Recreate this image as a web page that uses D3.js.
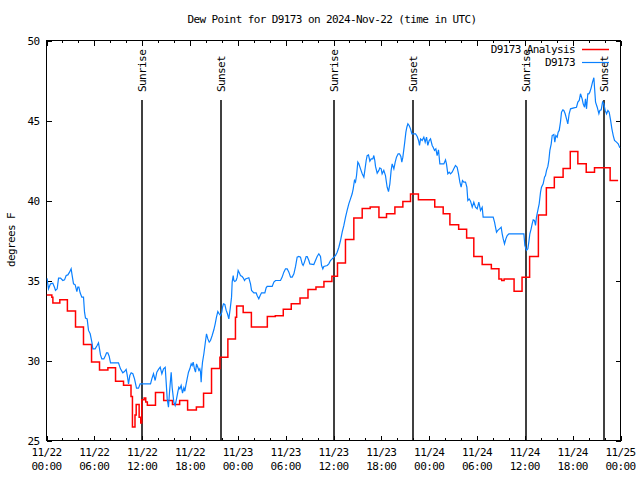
<!DOCTYPE html>
<html><head><meta charset="utf-8">
<script src="https://cdn.jsdelivr.net/npm/d3@7"></script>
<style>
body{margin:0;background:#fff}
text{font-family:"DejaVu Sans Mono","Liberation Mono",monospace;font-size:11px;letter-spacing:-0.6px;fill:#000}
</style></head>
<body><svg id="c" width="640" height="480"></svg>
<script>
// ---- data (hours since 2024-11-22 00:00 UTC) ----
const title = "Dew Point for D9173 on 2024-Nov-22 (time in UTC)";
const yLabel = "degrees F";
const seriesNames = ["D9173 Analysis", "D9173"];
const yTicks = [25, 30, 35, 40, 45, 50];
const xTickHours = [0, 6, 12, 18, 24, 30, 36, 42, 48, 54, 60, 66, 72];
const xTickDates = ["11/22","11/22","11/22","11/22","11/23","11/23","11/23","11/23","11/24","11/24","11/24","11/24","11/25"];
const xTickTimes = ["00:00","06:00","12:00","18:00","00:00","06:00","12:00","18:00","00:00","06:00","12:00","18:00","00:00"];
const sunNames = ["Sunrise","Sunset","Sunrise","Sunset","Sunrise","Sunset"];
const sunHours = [11.98, 21.89, 36.04, 45.97, 60.15, 69.93];

// analysis (stepped): step start hour and value
const anaHours = [0,0.67,0.8,1.67,2.62,3.64,4.64,5.65,6.65,7.7,8.66,9.66,10.6,10.78,11.1,11.25,11.62,11.82,11.95,12.25,12.45,12.65,13.67,14.7,15.8,16.7,17.7,18.8,19.7,20.7,21.75,22.75,23.7,23.85,24.67,25.7,27.7,28.7,29.7,30.7,31.8,32.8,33.8,34.8,35.8,36.5,37.5,38.55,39.6,40.6,41.7,42.65,43.7,44.7,45.66,46.65,48.7,49.76,50.6,51.7,52.7,53.6,54.65,55.8,56.75,57.1,57.4,58.65,59.65,60.6,61.7,62.7,63.7,64.8,65.7,66.65,67.7,68.74,70.7,71.7];
const anaValues = [34.1,33.95,33.6,33.8,33.1,32.1,31.0,29.9,29.4,29.55,28.7,28.45,27.75,25.85,26.6,27.25,26.45,26.1,27.55,27.65,27.4,27.2,28.0,27.5,27.25,27.5,26.9,27.1,27.95,29.5,30.2,31.35,32.7,33.4,33.0,32.1,32.75,32.8,33.2,33.54,33.9,34.44,34.6,34.94,35.27,36.1,37.56,38.9,39.5,39.6,38.94,39.17,39.6,39.94,40.4,40.04,39.6,39.17,38.48,38.2,37.65,36.5,36.0,35.73,35.1,35.0,35.1,34.33,35.2,36.5,39.1,40.8,41.46,42.0,43.06,42.3,41.77,42.04,41.25,41.25];

// observations
const obsHours = [0.02,0.08,0.25,0.5,0.79,1.0,1.13,1.34,1.51,1.76,2.05,2.26,2.47,2.68,2.89,3.09,3.22,3.39,3.6,3.81,3.93,4.06,4.22,4.43,4.64,4.77,4.89,5.1,5.27,5.48,5.69,5.81,6.1,6.35,6.52,6.65,6.77,6.94,7.19,7.4,7.53,7.69,7.86,8.03,9.03,9.28,9.57,9.78,9.99,10.12,10.29,10.45,10.62,10.83,11.04,11.29,11.54,11.75,13.05,13.21,13.42,13.63,13.84,14.05,14.26,14.47,14.68,14.89,15.01,15.14,15.3,15.43,15.55,15.64,15.76,15.97,16.14,16.31,16.47,16.6,16.73,16.89,17.06,17.23,17.35,17.48,17.64,17.81,17.98,18.15,18.27,18.4,18.56,18.69,18.82,18.98,19.11,19.23,19.32,19.4,19.49,19.57,19.74,19.91,20.07,20.24,20.41,20.57,20.78,20.99,21.16,21.32,21.49,21.66,21.83,21.99,22.08,22.2,22.37,22.54,22.7,22.87,23.04,23.21,23.29,23.42,23.5,23.62,23.79,23.92,24.04,24.21,24.33,24.54,24.67,24.84,24.96,25.38,25.59,25.72,26.01,26.3,26.42,26.63,26.8,26.97,27.39,27.55,27.68,28.31,28.52,28.73,29.35,29.56,29.77,29.98,30.19,30.4,30.61,30.82,31.03,31.24,31.44,31.65,31.86,32.07,32.19,32.36,32.57,32.7,32.91,33.03,33.53,33.74,33.95,34.16,34.37,34.5,34.66,34.79,35.21,35.41,35.62,35.83,36.04,36.25,36.46,36.67,36.88,37.09,37.3,37.51,37.71,37.92,38.13,38.34,38.47,38.63,38.76,38.89,39.05,39.18,39.39,39.6,39.81,39.93,40.1,40.22,40.39,40.56,40.73,40.93,41.06,41.18,41.27,41.48,41.69,41.81,41.98,42.1,42.31,42.52,42.73,42.9,43.07,43.23,43.36,43.57,43.74,43.9,44.11,44.28,44.45,44.57,44.7,44.91,45.08,45.2,45.33,45.49,45.66,45.83,46.29,46.5,46.67,46.79,46.92,47.12,47.33,47.5,47.67,47.83,48.0,48.17,48.38,48.5,48.67,48.84,49.0,49.17,49.34,49.84,50.05,50.17,50.34,50.51,50.68,50.88,51.09,51.3,51.51,51.68,51.85,52.01,52.18,52.35,52.56,52.73,52.85,53.02,53.19,53.4,53.6,53.81,54.02,54.23,54.44,54.65,54.77,56.03,56.2,56.32,56.45,56.61,56.82,57.03,57.16,57.29,57.45,57.62,57.79,58.0,59.88,60.0,60.21,60.38,60.5,60.63,60.79,60.92,61.05,61.21,61.34,61.46,61.63,61.8,61.97,62.09,62.3,62.47,62.59,62.72,62.89,63.01,63.14,63.31,63.43,63.64,63.76,63.89,64.06,64.18,64.31,64.47,64.6,64.77,64.89,65.06,65.23,65.39,65.56,65.73,66.15,66.48,66.65,66.82,66.98,67.19,67.32,67.49,67.61,67.74,67.9,68.03,68.15,68.32,68.49,68.66,68.74,68.87,69.08,69.29,69.41,69.58,69.75,69.91,70.08,70.25,70.42,70.58,70.75,70.92,71.09,71.25,71.5,71.71,71.92];
const obsValues = [35.1,35.1,34.48,34.79,34.83,34.58,34.38,34.48,35.15,35.15,35.0,35.04,35.31,35.35,35.52,35.73,35.31,34.79,34.73,34.31,34.58,34.58,34.23,33.96,33.96,33.02,32.65,32.6,31.88,31.67,31.15,30.73,30.73,30.94,31.1,30.73,30.35,30.1,30.1,30.31,30.48,30.48,30.27,29.85,29.85,29.48,29.23,29.31,29.44,29.1,28.54,29.06,29.23,29.17,28.85,28.27,28.27,28.54,28.54,28.85,29.17,28.75,29.27,29.44,29.58,29.17,29.48,29.58,28.65,27.6,27.08,28.02,28.75,29.27,28.33,27.4,27.19,27.6,28.02,28.33,28.23,28.44,27.96,28.29,28.08,28.44,28.85,29.27,29.48,29.79,29.69,29.9,29.48,29.27,29.79,29.58,29.38,29.48,29.27,28.65,29.48,29.9,30.42,31.08,31.67,31.35,31.15,31.25,31.56,31.92,32.29,32.71,33.06,32.92,32.81,33.02,33.33,33.54,33.5,33.13,32.92,32.6,33.23,33.96,34.9,35.31,35.0,34.94,35.0,35.21,35.63,35.46,35.31,35.25,35.17,35.0,35.1,35.17,34.79,34.38,34.23,34.23,34.06,33.85,34.06,34.23,34.23,34.54,34.63,34.63,34.9,35.0,35.0,35.21,35.52,35.73,35.73,35.52,35.21,35.21,35.42,35.88,36.46,36.5,36.46,36.04,35.94,36.15,36.5,36.5,36.25,36.04,36.0,36.25,36.5,36.67,36.5,35.94,35.73,35.88,35.94,36.04,36.25,36.35,36.46,36.56,36.77,37.08,37.5,38.02,38.44,38.96,39.38,39.79,40.1,40.42,40.73,41.25,41.15,41.56,42.4,42.29,41.98,41.67,41.46,41.88,42.5,42.81,42.85,42.46,42.6,42.6,42.81,42.5,42.13,41.71,41.88,42.04,41.98,41.67,41.88,41.56,40.83,40.56,41.04,41.88,42.29,41.98,42.4,42.71,42.92,42.92,42.75,42.4,42.71,43.54,44.27,44.58,44.79,44.69,44.48,44.17,44.17,44.0,43.75,43.44,43.85,43.75,43.96,43.65,43.96,43.44,43.75,43.85,43.44,43.33,43.13,43.23,42.81,43.17,42.29,42.29,42.54,42.29,41.67,41.77,41.67,41.77,41.98,42.19,42.08,41.67,41.15,40.83,41.25,41.15,41.15,40.83,40.0,40.1,39.96,39.58,39.9,39.58,39.48,39.9,39.38,39.58,38.96,38.96,38.65,38.33,38.02,38.13,38.23,38.33,37.92,37.6,37.29,37.6,37.81,37.92,37.92,37.19,36.88,36.98,37.4,37.92,38.23,38.54,38.79,38.75,38.44,38.96,39.38,39.79,40.52,40.83,41.04,41.46,41.56,41.88,42.13,42.5,43.13,43.54,44.06,44.13,43.65,44.06,43.96,44.27,44.38,44.9,45.52,45.67,45.63,45.42,45.1,44.79,45.42,45.73,45.79,45.83,46.15,46.25,46.67,46.35,46.04,45.83,46.35,45.73,46.67,46.67,46.77,47.04,47.4,47.67,47.08,46.15,45.83,45.42,45.63,45.67,46.15,46.04,45.63,45.42,45.63,45.52,45.04,44.48,44.06,43.75,43.65,43.54,43.29];

// ---- chart ----
const svg = d3.select("#c");
const L = 46.5, R = 620.5, T = 40.5, B = 440.5;
const base = Date.UTC(2024, 10, 22, 0, 0);
const toDate = h => new Date(base + h * 3600e3);
const x = d3.scaleUtc().domain([toDate(0), toDate(72)]).range([L, R]);
const y = d3.scaleLinear().domain([25, 50]).range([B, T]);

const minorHours = d3.range(0, 73, 2).filter(h => h % 6 !== 0);

function axis(gen, tr, vals, size, fmt) {
  const g = svg.append("g").attr("transform", tr)
    .call(gen.tickValues(vals).tickSize(size).tickPadding(7).tickFormat(fmt));
  g.select(".domain").remove();
  g.selectAll("line").attr("stroke", "#000").attr("shape-rendering", "crispEdges");
  return g;
}
const none = () => "";
axis(d3.axisBottom(x), `translate(0,${B})`, xTickHours.map(toDate), -5, none);
axis(d3.axisBottom(x), `translate(0,${B})`, minorHours.map(toDate), -2.5, none);
axis(d3.axisTop(x), `translate(0,${T})`, xTickHours.map(toDate), -5, none);
axis(d3.axisTop(x), `translate(0,${T})`, minorHours.map(toDate), -2.5, none);
const gy = axis(d3.axisLeft(y), `translate(${L},0)`, yTicks, -5, d3.format("d"));
gy.selectAll("text").attr("font-family", null).attr("font-size", null).attr("dy", "0.32em");
axis(d3.axisRight(y), `translate(${R},0)`, yTicks, -5, none);

// x labels (two rows)
const xl = svg.append("g").selectAll("text").data(xTickHours).join("text")
  .attr("text-anchor", "middle")
  .attr("transform", h => `translate(${x(toDate(h))},0)`);
xl.append("tspan").attr("x", 0).attr("y", 456).text((h, i) => xTickDates[i]);
xl.append("tspan").attr("x", 0).attr("y", 470).text((h, i) => xTickTimes[i]);

// border
svg.append("rect").attr("x", L).attr("y", T).attr("width", R - L).attr("height", B - T)
  .attr("fill", "none").attr("stroke", "#000").attr("shape-rendering", "crispEdges");

// title & y label
svg.append("text").attr("x", 332).attr("y", 23).attr("text-anchor", "middle").text(title);
svg.append("text").attr("transform", "translate(15,240) rotate(-90)").attr("text-anchor", "middle").text(yLabel);

// clip
svg.append("clipPath").attr("id", "clip").append("rect")
  .attr("x", L).attr("y", T).attr("width", R - L).attr("height", B - T);
const plot = svg.append("g").attr("clip-path", "url(#clip)");

// sun lines
sunHours.forEach((h, i) => {
  const sx = Math.round(x(toDate(h)));
  plot.append("line").attr("x1", sx).attr("x2", sx).attr("y1", 100).attr("y2", B)
    .attr("stroke", "#000").attr("stroke-width", 1.5);
  svg.append("text").attr("transform", `translate(${sx},92) rotate(-90)`)
    .attr("dy", "0.35em").attr("text-anchor", "start").text(sunNames[i]);
});

// series
const ana = anaHours.map((h, i) => [toDate(h), anaValues[i]]);
const obs = obsHours.map((h, i) => [toDate(h), obsValues[i]]);
plot.append("path").datum(ana)
  .attr("d", d3.line().x(d => x(d[0])).y(d => y(d[1])).curve(d3.curveStepAfter))
  .attr("fill", "none").attr("stroke", "#ff0000").attr("stroke-width", 1.5);
plot.append("path").datum(obs)
  .attr("d", d3.line().x(d => x(d[0])).y(d => y(d[1])))
  .attr("fill", "none").attr("stroke", "#0a80ff").attr("stroke-width", 1.2);

// legend
const legColors = ["#ff0000", "#0a80ff"];
seriesNames.forEach((n, i) => {
  const ly = 49.5 + i * 13;
  svg.append("text").attr("x", 575).attr("y", ly).attr("dy", "0.35em").attr("text-anchor", "end").text(n);
  svg.append("line").attr("x1", 582).attr("x2", 609).attr("y1", ly).attr("y2", ly)
    .attr("stroke", legColors[i]).attr("stroke-width", i === 0 ? 1.5 : 1.2);
});
</script></body></html>
